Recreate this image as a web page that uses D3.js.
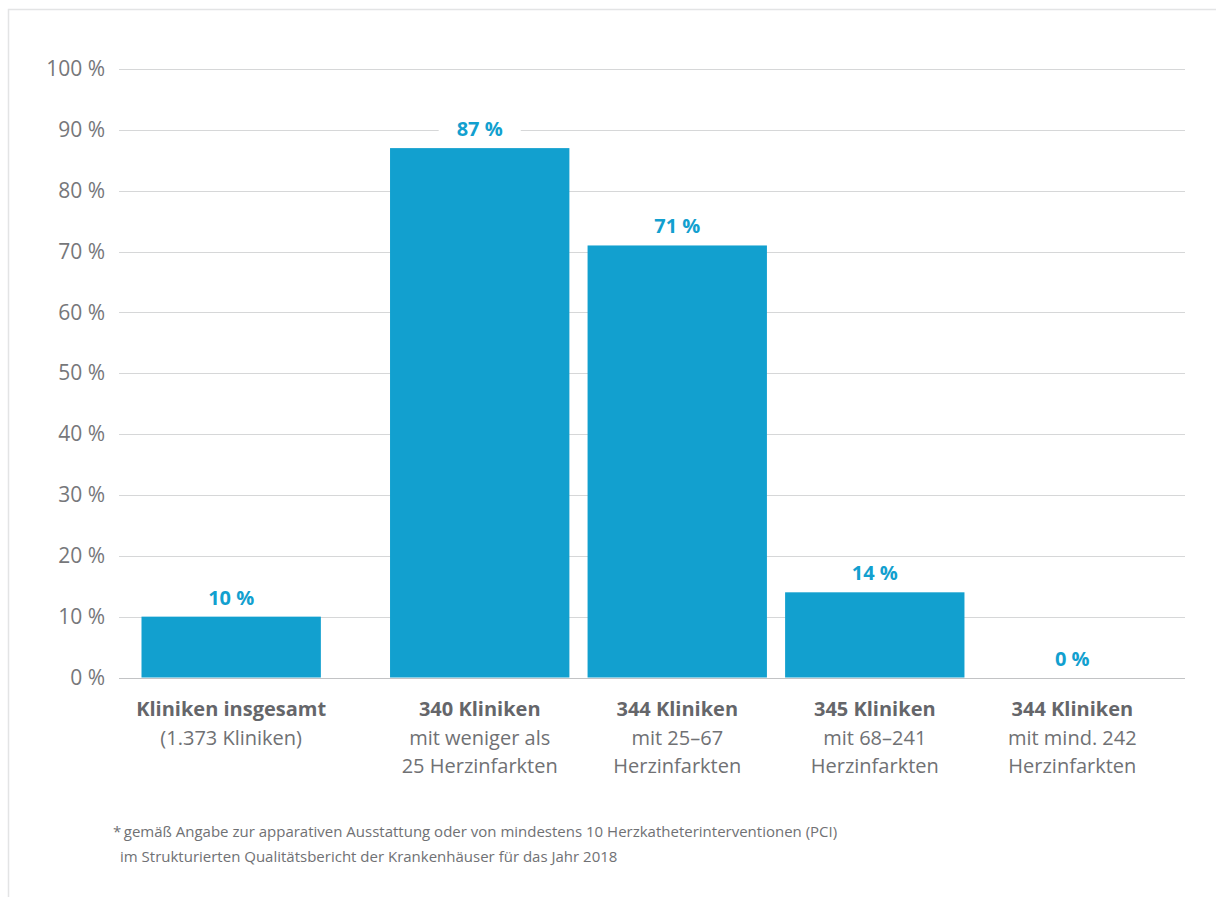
<!DOCTYPE html>
<html>
<head>
<meta charset="utf-8">
<script src="https://cdn.jsdelivr.net/npm/d3@7"></script>
<style>
  body { margin: 0; background: #fff; }
  svg { display: block; font-family: "Open Sans", sans-serif; }
</style>
</head>
<body>
<div id="chart"></div>
<script>
// chart values
var categories = ["k0", "k1", "k2", "k3", "k4"];
var values = [10, 87, 71, 14, 0];
var titleLines = ["Kliniken insgesamt", "340 Kliniken", "344 Kliniken", "345 Kliniken", "344 Kliniken"];
var subLines = [
  ["(1.373 Kliniken)"],
  ["mit weniger als", "25 Herzinfarkten"],
  ["mit 25\u201367", "Herzinfarkten"],
  ["mit 68\u2013241", "Herzinfarkten"],
  ["mit mind. 242", "Herzinfarkten"]
];
var yTicks = [0, 10, 20, 30, 40, 50, 60, 70, 80, 90, 100];
var footnote = [
  "*\u2009gem\u00e4\u00df Angabe zur apparativen Ausstattung oder von mindestens 10 Herzkatheterinterventionen (PCI)",
  "im Strukturierten Qualit\u00e4tsbericht der Krankenh\u00e4user f\u00fcr das Jahr 2018"
];

var W = 1216, H = 897;
var barColor = "#12a0cf";
var textColor = "#707174";

var svg = d3.select("#chart").append("svg")
    .attr("width", W)
    .attr("height", H);

// light frame at top / left
svg.append("path")
    .attr("d", "M8.5," + H + "V9.5H" + W)
    .attr("fill", "none")
    .attr("stroke", "#e3e4e5")
    .attr("stroke-width", 1.5);

var y = d3.scaleLinear()
    .domain([0, 100])
    .range([677.5, 69]);

// bars 2-5 sit on a regular band, the first one is pulled a bit further left
var x = d3.scaleBand()
    .domain(categories)
    .range([192.5, 1162])
    .paddingInner(0.092)
    .paddingOuter(0);
var firstGap = 51;
function bx(d, i) { return x(categories[i]) - (i === 0 ? firstGap : 0); }

// grid
var grid = svg.append("g");
grid.selectAll("line")
    .data(yTicks)
    .enter()
    .append("line")
    .attr("x1", 119)
    .attr("x2", 1185)
    .attr("y1", function(d) { return Math.round(y(d)) + 0.5; })
    .attr("y2", function(d) { return Math.round(y(d)) + 0.5; })
    .attr("stroke", function(d) { return d === 0 ? "#c2c3c5" : "#d6d7d8"; })
    .attr("stroke-width", 1.2);

// y axis labels
var yAxis = svg.append("g")
    .attr("transform", "translate(105,0)")
    .call(d3.axisLeft(y).tickValues(yTicks).tickSize(0).tickPadding(0)
          .tickFormat(function(d) { return d + " %"; }));
yAxis.select(".domain").remove();
yAxis.selectAll("text")
    .attr("font-family", "Open Sans, sans-serif")
    .attr("font-size", 21)
    .attr("fill", "#76777a");

// bars
svg.append("g").selectAll("rect")
    .data(values)
    .enter()
    .append("rect")
    .attr("x", bx)
    .attr("y", function(d) { return y(d); })
    .attr("width", x.bandwidth())
    .attr("height", function(d) { return y(0) - y(d); })
    .attr("fill", barColor);

// value labels with white backing (cuts the grid line)
var vl = svg.append("g").selectAll("g")
    .data(values)
    .enter()
    .append("g")
    .attr("transform", function(d, i) {
        return "translate(" + (bx(d, i) + x.bandwidth() / 2) + "," + (y(d) - 12) + ")";
    });
vl.append("text")
    .attr("text-anchor", "middle")
    .attr("font-size", 20)
    .attr("font-weight", 700)
    .attr("fill", barColor)
    .text(function(d) { return d + " %"; });
vl.each(function() {
    var g = d3.select(this);
    var bb = g.select("text").node().getBBox();
    g.insert("rect", "text")
        .attr("x", bb.x - 18)
        .attr("y", bb.y + 3)
        .attr("width", bb.width + 36)
        .attr("height", bb.height - 6)
        .attr("fill", "#fff");
});

// category labels
var cl = svg.append("g").selectAll("text")
    .data(categories)
    .enter()
    .append("text")
    .attr("text-anchor", "middle")
    .attr("font-size", 20)
    .attr("fill", textColor)
    .attr("transform", function(d, i) {
        return "translate(" + (bx(d, i) + x.bandwidth() / 2) + ",716)";
    });
cl.append("tspan")
    .attr("x", 0)
    .attr("y", 0)
    .attr("font-weight", 700)
    .attr("fill", "#65666a")
    .text(function(d, i) { return titleLines[i]; });
cl.each(function(d, i) {
    var t = d3.select(this);
    subLines[i].forEach(function(s, j) {
        t.append("tspan")
            .attr("x", 0)
            .attr("y", 29 * (j + 1) - (j > 0 ? 1 : 0))
            .text(s);
    });
});

// footnote
svg.append("g").selectAll("text")
    .data(footnote)
    .enter()
    .append("text")
    .attr("x", function(d, i) { return i === 0 ? 113 : 120; })
    .attr("y", function(d, i) { return 837 + i * 25; })
    .attr("font-size", 15)
    .attr("fill", textColor)
    .text(function(d) { return d; });
</script>
</body>
</html>
